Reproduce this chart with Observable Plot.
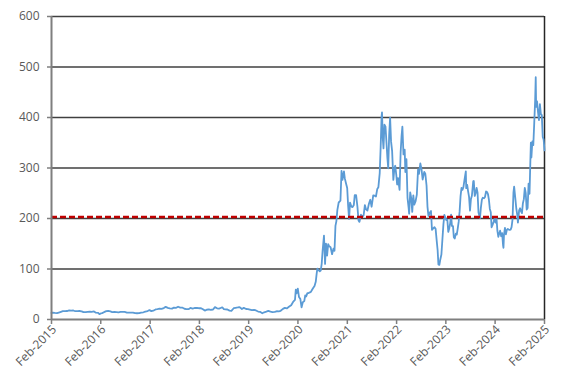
<!DOCTYPE html>
<html>
<head>
<meta charset="utf-8">
<script src="https://cdn.jsdelivr.net/npm/d3@7"></script>
<script src="https://cdn.jsdelivr.net/npm/@observablehq/plot@0.6"></script>
<style>
  html, body { margin: 0; padding: 0; background: #fff; }
</style>
</head>
<body>
<div id="chart"></div>
<script>
const dates = [
"2015-02-20","2015-03-02","2015-03-16","2015-04-01","2015-04-15","2015-05-01","2015-05-15","2015-06-01","2015-06-15","2015-07-01","2015-07-15","2015-08-01","2015-08-15","2015-09-01","2015-09-15","2015-10-01","2015-10-15","2015-11-01","2015-11-15","2015-12-01","2015-12-15",
"2016-01-01","2016-01-15","2016-02-01","2016-02-10","2016-02-20","2016-03-01","2016-03-15","2016-04-01","2016-04-15","2016-05-01","2016-05-15","2016-06-01","2016-06-15","2016-07-01","2016-07-15","2016-08-01","2016-08-15","2016-09-01","2016-09-15","2016-10-01","2016-10-15","2016-11-01","2016-11-15","2016-12-01","2016-12-15",
"2017-01-01","2017-01-15","2017-02-01","2017-02-15","2017-03-01","2017-03-15","2017-04-01","2017-04-15","2017-05-01","2017-05-15","2017-06-01","2017-06-15","2017-07-01","2017-07-15","2017-08-01","2017-08-15","2017-09-01","2017-09-15","2017-10-01","2017-10-15","2017-11-01","2017-11-15","2017-12-01","2017-12-15",
"2018-01-01","2018-01-15","2018-02-01","2018-02-15","2018-03-01","2018-03-15","2018-04-01","2018-04-15","2018-05-01","2018-05-15","2018-06-01","2018-06-15","2018-07-01","2018-07-15","2018-08-01","2018-08-10","2018-08-20","2018-09-01","2018-09-15","2018-10-01","2018-10-15","2018-11-01","2018-11-15","2018-12-01","2018-12-15",
"2019-01-01","2019-01-15","2019-02-01","2019-02-15","2019-03-01","2019-03-15","2019-04-01","2019-04-15","2019-05-01","2019-05-15","2019-06-01","2019-06-15","2019-07-01","2019-07-15","2019-08-01","2019-08-15","2019-09-01","2019-09-15","2019-10-01","2019-10-15","2019-11-01","2019-11-15","2019-12-01","2019-12-15",
"2020-01-01","2020-01-15","2020-01-29","2020-02-04","2020-02-10","2020-02-19","2020-02-28","2020-03-09","2020-03-18","2020-03-27","2020-04-07","2020-04-14","2020-04-21","2020-04-30","2020-05-07","2020-05-15","2020-05-26","2020-06-05","2020-06-12","2020-06-22","2020-07-01","2020-07-08","2020-07-13","2020-07-20","2020-07-31","2020-08-07","2020-08-14","2020-08-21","2020-08-31","2020-09-08","2020-09-15","2020-09-23","2020-10-01","2020-10-09","2020-10-19","2020-10-30","2020-11-09","2020-11-17","2020-11-24","2020-12-01","2020-12-08","2020-12-18","2020-12-31",
"2021-01-08","2021-01-15","2021-01-26","2021-02-01","2021-02-10","2021-02-19","2021-02-26","2021-03-05","2021-03-12","2021-03-22","2021-03-31","2021-04-09","2021-04-16","2021-04-26","2021-05-06","2021-05-14","2021-05-21","2021-06-01","2021-06-11","2021-06-21","2021-06-30","2021-07-09","2021-07-19","2021-07-30","2021-08-09","2021-08-19","2021-08-31","2021-09-10","2021-09-20","2021-09-30","2021-10-08","2021-10-18","2021-10-25","2021-11-01","2021-11-04","2021-11-10","2021-11-15","2021-11-22","2021-11-30","2021-12-07","2021-12-14","2021-12-20","2021-12-27",
"2022-01-03","2022-01-10","2022-01-18","2022-01-27","2022-02-03","2022-02-10","2022-02-18","2022-02-24","2022-03-03","2022-03-14","2022-03-22","2022-03-29","2022-04-04","2022-04-12","2022-04-21","2022-04-26","2022-05-04","2022-05-12","2022-05-20","2022-05-24","2022-06-01","2022-06-09","2022-06-16","2022-06-24","2022-07-01","2022-07-11","2022-07-20","2022-07-29","2022-08-05","2022-08-15","2022-08-24","2022-09-01","2022-09-13","2022-09-21","2022-09-30","2022-10-07","2022-10-14","2022-10-24","2022-11-02","2022-11-09","2022-11-18","2022-11-28","2022-12-06","2022-12-14","2022-12-21","2022-12-27",
"2023-01-03","2023-01-10","2023-01-18","2023-01-26","2023-02-02","2023-02-09","2023-02-16","2023-02-24","2023-03-03","2023-03-10","2023-03-17","2023-03-24","2023-03-31","2023-04-06","2023-04-14","2023-04-20","2023-04-27","2023-05-05","2023-05-12","2023-05-19","2023-05-26","2023-06-02","2023-06-09","2023-06-16","2023-06-23","2023-06-30","2023-07-07","2023-07-18","2023-07-21","2023-07-28","2023-08-04","2023-08-11","2023-08-18","2023-08-25","2023-09-01","2023-09-11","2023-09-15","2023-09-22","2023-09-29","2023-10-06","2023-10-13","2023-10-20","2023-10-31","2023-11-07","2023-11-14","2023-11-21","2023-11-30","2023-12-07","2023-12-15","2023-12-22","2023-12-29",
"2024-01-05","2024-01-12","2024-01-19","2024-01-25","2024-02-02","2024-02-09","2024-02-16","2024-02-23","2024-03-01","2024-03-08","2024-03-15","2024-03-22","2024-03-28","2024-04-05","2024-04-12","2024-04-19","2024-04-22","2024-04-26","2024-05-03","2024-05-10","2024-05-17","2024-05-24","2024-05-31","2024-06-07","2024-06-14","2024-06-21","2024-06-28","2024-07-05","2024-07-10","2024-07-19","2024-07-26","2024-08-02","2024-08-07","2024-08-16","2024-08-23","2024-08-30","2024-09-06","2024-09-13","2024-09-20","2024-09-27","2024-10-04","2024-10-11","2024-10-18","2024-10-25","2024-11-01","2024-11-08","2024-11-11","2024-11-15","2024-11-22","2024-11-29","2024-12-06","2024-12-13","2024-12-17","2024-12-20","2024-12-27",
"2025-01-03","2025-01-10","2025-01-17","2025-01-24","2025-01-31","2025-02-07","2025-02-14","2025-02-20"
];
const prices = [
13,13.6,13,12.6,13.8,15.2,16.5,16.7,16.8,18,17.4,17.8,16.4,16.6,16.8,16.2,14.5,14.8,15.3,15.7,15.3,
16,13.5,13,10.5,12,12.6,14.5,16.6,16.9,16,14.5,14.9,14.6,14.3,15.1,15.2,15,13.5,13.7,13.6,13.7,12.7,12.4,12.5,13.6,
14.3,15.7,16.7,18.6,16.6,17.4,19.9,20.5,21.5,21,22.7,25,23,21.9,21.6,23.4,23.1,25.3,23.6,23.7,21.3,20.7,20.5,22.9,
21.4,22.8,23,22.3,22.6,20.7,17.6,19.3,20,19.2,19.8,24.5,22.2,21.6,23.3,23.8,20.6,20.1,19.8,17.5,17.1,22.3,23.1,23.8,24.6,
20.7,23,20.8,20.5,19.5,18.5,19.2,17.9,15.8,15.2,12.4,14.3,15.6,16.9,15.5,14.6,15.1,16.3,16.2,17.3,21.1,23.1,22,25.3,
28.3,34.7,38.7,58.9,51.7,61.2,44.5,40.5,24.1,34.3,36.4,47.8,45.7,52.1,52.1,53.3,54.6,59.3,62.4,66.4,74.6,91.4,100.6,98.4,95.4,96.8,110,136.7,166.1,110.1,150.4,126.5,149,144.9,143,129.3,140.4,136.2,185.4,194.9,216.6,231.7,235.2,
294.4,276.4,293.3,279.9,269.9,260.4,225.2,199.3,231.6,223.6,222.6,226.6,246.3,246.4,223.1,196,193.3,207.5,203.3,206.7,226.6,218,215.7,229.1,237.1,223.3,245.7,245.2,243.6,258.5,261.8,290,341.6,402.9,410,357.6,338.8,385.6,381.6,350.6,319.5,299.5,364.7,
399.9,352.7,333.3,276.4,297,304.4,285.7,267.3,279.8,256.5,331.3,363.9,381.8,326.8,336.3,292.1,317.5,241,221.3,209.4,251.7,239.7,213.1,245.7,227.3,234.3,247.4,297.1,288.2,309.3,297.1,277.2,292.1,288.6,265.3,223.1,205,211.2,215,177.6,180.2,182.9,179.8,156.8,137.6,109.1,
108.1,118.9,128.8,160.3,188.3,207.3,202,196.9,197.8,173.4,180.1,190.4,207.5,185.1,185,163,160.2,170.1,168,180.1,193.2,214,244.4,260.5,256.6,261.8,274.4,293.3,260,266.4,253.9,242.7,215.5,238.6,245,273.6,274.4,244.9,250.2,260.5,251.1,212,200.8,222.2,237.4,241.2,240.1,242.6,253.5,252.5,248.5,
237.5,218.9,212.2,182.6,187.9,193.6,200,192,202.6,175.3,163.6,170.8,175.8,164.9,171.1,147,142,168.3,181.2,168.5,177.5,179.2,178.1,177.5,178,183,197.9,251.5,263.3,239.2,219.8,207.7,191.8,216.1,220.3,214.1,210.7,230.3,238.3,260.5,250.1,217.8,220.7,269.2,249,321.2,350,320.7,352.6,345.2,389.2,436.2,479.9,421.1,431.7,
410.4,394.7,426.5,406.6,404.6,361.6,355.8,335
];
const yTicks = [0, 100, 200, 300, 400, 500, 600];
const gridLevels = [100, 200, 300, 400, 500, 600];
const threshold = [203];
const xTickYears = [2015, 2016, 2017, 2018, 2019, 2020, 2021, 2022, 2023, 2024, 2025];

const parse = d3.utcParse("%Y-%m-%d");
const data = dates.map((d, i) => ({date: parse(d), price: prices[i]}));
const start = data[0].date;
const end = data[data.length - 1].date;
const xTicks = xTickYears.map(y => new Date(Date.UTC(y, 1, 20)));

const chart = Plot.plot({
  width: 572,
  height: 384,
  marginLeft: 51,
  marginRight: 28,
  marginTop: 16,
  marginBottom: 65,
  x: {type: "utc", domain: [start, end]},
  y: {domain: [0, 600]},
  style: {fontFamily: "'Open Sans', sans-serif", fontSize: "12px", color: "#595959", background: "#fff"},
  marks: [
    Plot.ruleY(gridLevels, {stroke: "#404040", strokeWidth: 1.3}),
    Plot.ruleX([end], {stroke: "#262626", strokeWidth: 1.5}),
    Plot.lineY(data, {x: "date", y: "price", stroke: "#5b9bd5", strokeWidth: 1.8}),
    Plot.ruleY(threshold, {stroke: "#c00000", strokeWidth: 2.5, strokeDasharray: "6,3"}),
    Plot.ruleY([0], {stroke: "#7f7f7f", strokeWidth: 2}),
    Plot.ruleX([start], {stroke: "#7f7f7f", strokeWidth: 2}),
    Plot.axisY({ticks: yTicks, tickSize: 4, tickPadding: 8, label: null, stroke: "#7f7f7f", strokeWidth: 1.5}),
    Plot.axisX({ticks: xTicks, tickSize: 5, label: null, stroke: "#7f7f7f", strokeWidth: 1.5, tickFormat: () => ""}),
    Plot.axisX({ticks: xTicks, tickFormat: d3.utcFormat("%b-%Y"), tickRotate: -45, tickSize: 0, tickPadding: 8, dx: 3, label: null})
  ]
});
document.getElementById("chart").appendChild(chart);
</script>
</body>
</html>
